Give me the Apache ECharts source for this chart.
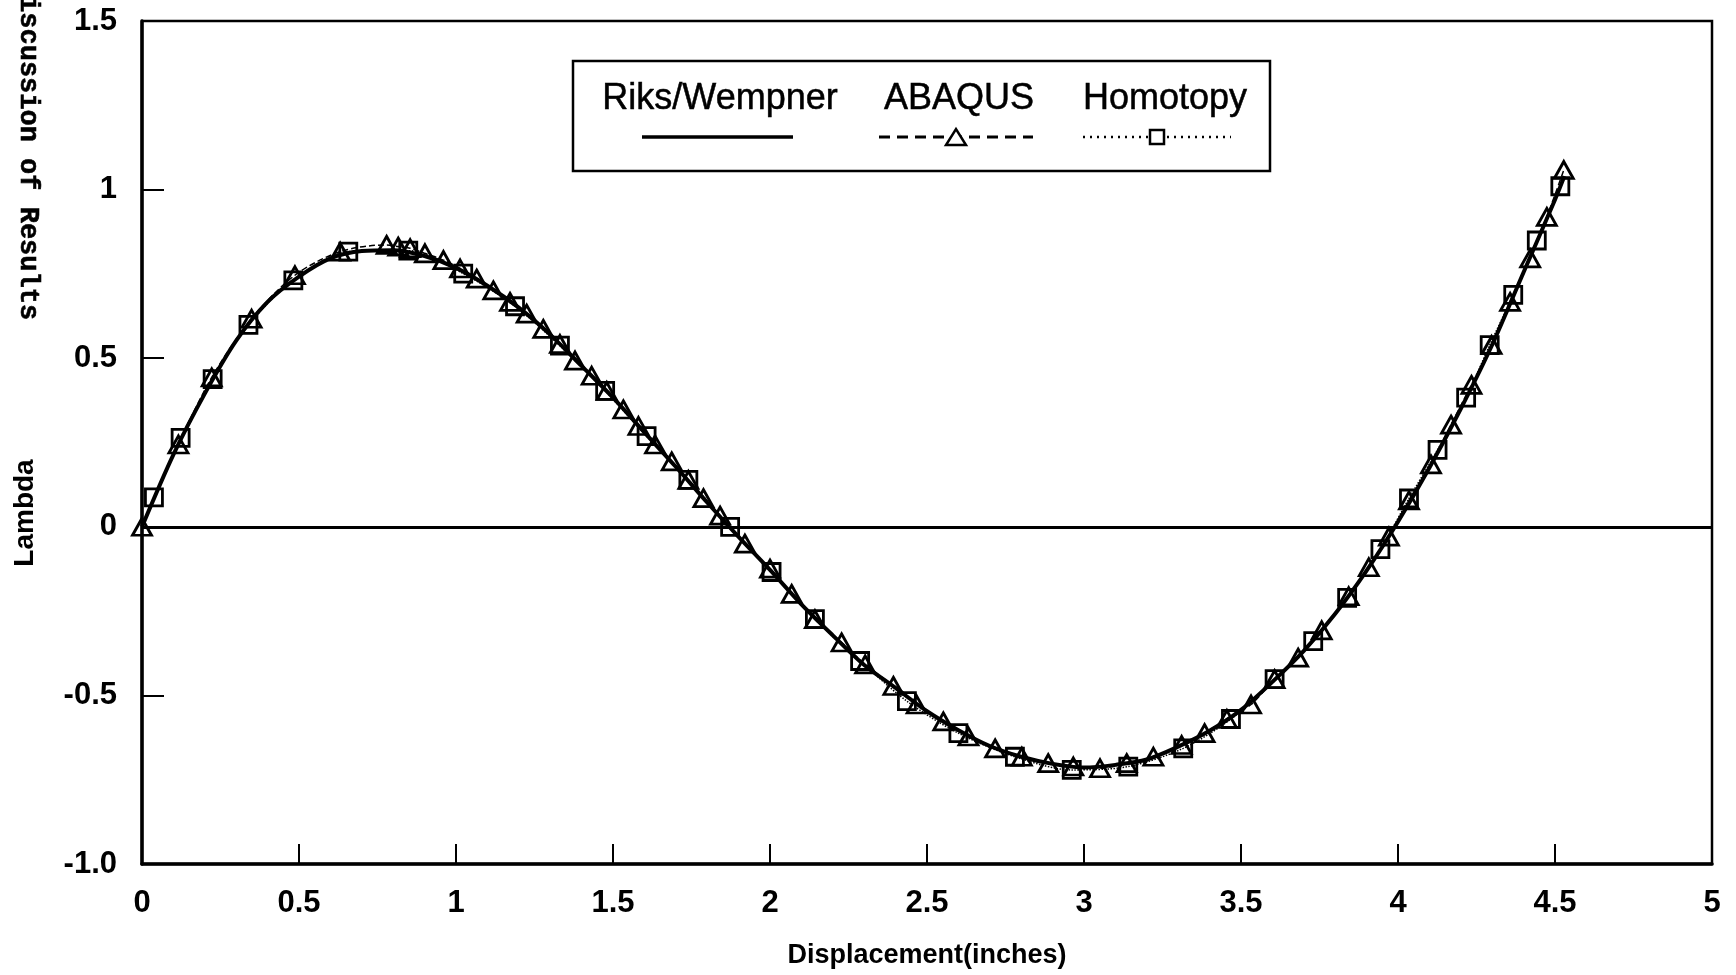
<!DOCTYPE html>
<html>
<head>
<meta charset="utf-8">
<script src="https://cdn.jsdelivr.net/npm/echarts@6/dist/echarts.min.js"></script>
<style>
html,body{margin:0;padding:0;background:#fff;}
#chart{width:1736px;height:975px;}
</style>
</head>
<body>
<div id="chart"></div>
<script>
// ---- data ----
const seriesNames = ['Riks/Wempner', 'ABAQUS', 'Homotopy'];

const riksX = [0, 0.1, 0.2, 0.3, 0.4, 0.5, 0.6, 0.7, 0.8, 0.9, 1.0, 1.1, 1.2, 1.3, 1.4, 1.5, 1.6, 1.7, 1.8, 1.9, 2.0, 2.1, 2.2, 2.3, 2.4, 2.5, 2.6, 2.7, 2.8, 2.9, 3.0, 3.1, 3.2, 3.3, 3.4, 3.5, 3.6, 3.7, 3.8, 3.9, 4.0, 4.1, 4.2, 4.3, 4.4, 4.5, 4.53];
const riksY = [0, 0.214, 0.395, 0.552, 0.667, 0.742, 0.796, 0.818, 0.82, 0.803, 0.768, 0.715, 0.65, 0.57, 0.477, 0.383, 0.28, 0.178, 0.072, -0.03, -0.128, -0.23, -0.322, -0.41, -0.478, -0.547, -0.603, -0.65, -0.682, -0.703, -0.714, -0.706, -0.69, -0.652, -0.605, -0.543, -0.46, -0.368, -0.258, -0.13, 0.015, 0.175, 0.35, 0.54, 0.755, 0.97, 1.04];

const abaqusX = [0, 0.116, 0.222, 0.349, 0.487, 0.631, 0.779, 0.816, 0.854, 0.901, 0.960, 1.013, 1.066, 1.119, 1.172, 1.225, 1.278, 1.331, 1.379, 1.432, 1.480, 1.533, 1.581, 1.634, 1.687, 1.740, 1.788, 1.841, 1.920, 2.000, 2.069, 2.143, 2.228, 2.303, 2.393, 2.467, 2.552, 2.632, 2.717, 2.802, 2.886, 2.966, 3.051, 3.136, 3.221, 3.311, 3.384, 3.455, 3.532, 3.607, 3.682, 3.757, 3.843, 3.907, 3.971, 4.035, 4.105, 4.169, 4.234, 4.298, 4.357, 4.421, 4.474, 4.528];
const abaqusY = [0, 0.244, 0.443, 0.617, 0.746, 0.816, 0.836, 0.831, 0.826, 0.811, 0.791, 0.766, 0.736, 0.701, 0.667, 0.632, 0.587, 0.542, 0.493, 0.448, 0.403, 0.348, 0.299, 0.244, 0.194, 0.139, 0.085, 0.033, -0.050, -0.124, -0.199, -0.274, -0.343, -0.408, -0.472, -0.527, -0.577, -0.622, -0.657, -0.682, -0.701, -0.711, -0.716, -0.701, -0.682, -0.647, -0.612, -0.570, -0.527, -0.452, -0.388, -0.307, -0.206, -0.120, -0.029, 0.078, 0.185, 0.303, 0.421, 0.539, 0.667, 0.796, 0.919, 1.058];

const homotopyX = [0.038, 0.123, 0.225, 0.339, 0.482, 0.657, 0.848, 1.023, 1.188, 1.331, 1.475, 1.607, 1.740, 1.873, 2.005, 2.143, 2.287, 2.436, 2.600, 2.780, 2.961, 3.141, 3.316, 3.468, 3.607, 3.730, 3.838, 3.944, 4.035, 4.126, 4.217, 4.292, 4.367, 4.442, 4.517];
const homotopyY = [0.087, 0.264, 0.438, 0.599, 0.731, 0.816, 0.819, 0.751, 0.654, 0.537, 0.403, 0.269, 0.139, 0.0, -0.134, -0.274, -0.398, -0.517, -0.612, -0.682, -0.721, -0.711, -0.657, -0.570, -0.452, -0.339, -0.211, -0.066, 0.084, 0.228, 0.383, 0.539, 0.688, 0.849, 1.010];

const xTickValues = [0, 0.5, 1, 1.5, 2, 2.5, 3, 3.5, 4, 4.5, 5];
const xTickLabels = ['0', '0.5', '1', '1.5', '2', '2.5', '3', '3.5', '4', '4.5', '5'];
const yTickValues = [-1, -0.5, 0, 0.5, 1, 1.5];
const yTickLabels = ['-1.0', '-0.5', '0', '0.5', '1', '1.5'];

const xAxisTitle = 'Displacement(inches)';
const yAxisTitle = 'Lambda';
const headerText = 'Discussion of Results';

// ---- build ----
function pairs(xs, ys) { return xs.map((x, i) => [x, ys[i]]); }
function lookup(vals, labels, v) {
  const i = vals.findIndex(t => Math.abs(t - v) < 1e-9);
  return i >= 0 ? labels[i] : '';
}

const chart = echarts.init(document.getElementById('chart'), null, { renderer: 'canvas' });
const SANS = "'Liberation Sans', Arial, Helvetica, sans-serif";

const option = {
  backgroundColor: '#ffffff',
  animation: false,
  grid: {
    left: 142, right: 24, top: 21, bottom: 111,
    show: true, borderColor: '#000', borderWidth: 2.5, backgroundColor: 'transparent'
  },
  xAxis: {
    type: 'value', min: 0, max: 5, interval: 0.5,
    name: xAxisTitle, nameLocation: 'middle', nameGap: 78,
    nameTextStyle: { fontFamily: SANS, fontWeight: 'bold', fontSize: 27, color: '#000' },
    axisLine: { show: true, onZero: false, lineStyle: { color: '#000', width: 3.5 } },
    axisTick: { show: true, inside: true, length: 20, lineStyle: { color: '#000', width: 2 } },
    axisLabel: {
      margin: 24, fontFamily: SANS, fontWeight: 'bold', fontSize: 31, color: '#000',
      formatter: v => lookup(xTickValues, xTickLabels, v)
    },
    splitLine: { show: false }
  },
  yAxis: {
    type: 'value', min: -1, max: 1.5, interval: 0.5,
    axisLine: { show: true, onZero: false, lineStyle: { color: '#000', width: 3.5 } },
    axisTick: { show: true, inside: true, length: 22, lineStyle: { color: '#000', width: 2 } },
    axisLabel: {
      margin: 25, fontFamily: SANS, fontWeight: 'bold', fontSize: 31, color: '#000',
      formatter: v => lookup(yTickValues, yTickLabels, v)
    },
    splitLine: { show: false }
  },
  series: [
    {
      name: seriesNames[0], type: 'line', data: pairs(riksX, riksY),
      smooth: 0.3, showSymbol: false, symbol: 'none', z: 2,
      lineStyle: { color: '#000', width: 4, type: 'solid' },
      markLine: {
        silent: true, symbol: ['none', 'none'], label: { show: false },
        lineStyle: { color: '#000', width: 3, type: 'solid' },
        data: [{ yAxis: 0 }]
      }
    },
    {
      name: seriesNames[1], type: 'line', data: pairs(abaqusX, abaqusY),
      smooth: 0.3, symbol: 'triangle', symbolSize: [19, 17], showAllSymbol: true, z: 3,
      lineStyle: { color: '#000', width: 1.5, type: 'dashed' },
      itemStyle: { color: 'rgba(0,0,0,0)', borderColor: '#000', borderWidth: 2.8 }
    },
    {
      name: seriesNames[2], type: 'line', data: pairs(homotopyX, homotopyY),
      smooth: 0.3, symbol: 'rect', symbolSize: 17, showAllSymbol: true, z: 4,
      lineStyle: { color: '#000', width: 1.5, type: 'dotted' },
      itemStyle: { color: 'rgba(0,0,0,0)', borderColor: '#000', borderWidth: 2.8 }
    }
  ],
  graphic: [
    // running header (rotated)
    {
      type: 'text', x: 28, y: 150, rotation: -Math.PI / 2, silent: true,
      style: {
        text: headerText, fill: '#000', stroke: '#000', lineWidth: 0.6,
        font: "bold 27px 'Liberation Mono', 'Courier New', monospace",
        textAlign: 'center', textVerticalAlign: 'middle'
      }
    },
    // y axis title
    {
      type: 'text', x: 25, y: 513, rotation: Math.PI / 2, silent: true,
      style: {
        text: yAxisTitle, fill: '#000',
        font: "bold 28px " + SANS,
        textAlign: 'center', textVerticalAlign: 'middle'
      }
    },
    // legend box
    {
      type: 'rect', silent: true, z: 10,
      shape: { x: 573, y: 61, width: 697, height: 110 },
      style: { fill: '#fff', stroke: '#000', lineWidth: 2.5 }
    },
    {
      type: 'text', x: 720, y: 99, silent: true, z: 11,
      style: { text: seriesNames[0], fill: '#000', stroke: '#000', lineWidth: 0.5, font: "36px " + SANS, textAlign: 'center', textVerticalAlign: 'middle' }
    },
    {
      type: 'text', x: 959, y: 99, silent: true, z: 11,
      style: { text: seriesNames[1], fill: '#000', stroke: '#000', lineWidth: 0.5, font: "36px " + SANS, textAlign: 'center', textVerticalAlign: 'middle' }
    },
    {
      type: 'text', x: 1165, y: 99, silent: true, z: 11,
      style: { text: seriesNames[2], fill: '#000', stroke: '#000', lineWidth: 0.5, font: "36px " + SANS, textAlign: 'center', textVerticalAlign: 'middle' }
    },
    {
      type: 'line', silent: true, z: 11,
      shape: { x1: 642, y1: 137, x2: 793, y2: 137 },
      style: { stroke: '#000', lineWidth: 3.5 }
    },
    {
      type: 'line', silent: true, z: 11,
      shape: { x1: 879, y1: 137, x2: 1033, y2: 137 },
      style: { stroke: '#000', lineWidth: 3, lineDash: [11, 7] }
    },
    {
      type: 'polygon', silent: true, z: 12,
      shape: { points: [[946, 145], [966, 145], [956, 129]] },
      style: { fill: '#fff', stroke: '#000', lineWidth: 2.5 }
    },
    {
      type: 'line', silent: true, z: 11,
      shape: { x1: 1083, y1: 137, x2: 1231, y2: 137 },
      style: { stroke: '#000', lineWidth: 2.5, lineDash: [2, 5] }
    },
    {
      type: 'rect', silent: true, z: 12,
      shape: { x: 1150, y: 130, width: 14, height: 14 },
      style: { fill: '#fff', stroke: '#000', lineWidth: 2.5 }
    }
  ]
};

chart.setOption(option);
</script>
</body>
</html>
